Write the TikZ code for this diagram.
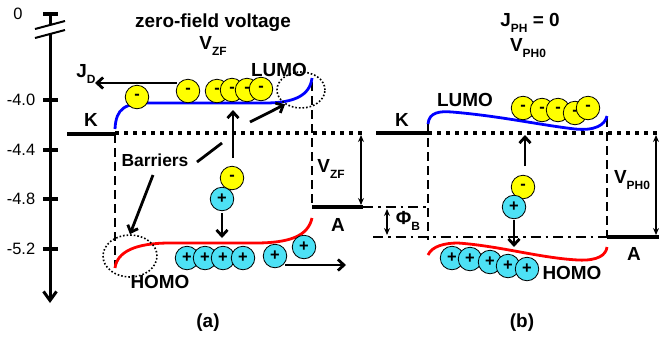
\documentclass[tikz,border=0pt]{standalone}
\usepackage{fontspec}
\setmainfont{Liberation Sans}
\usetikzlibrary{arrows.meta,shapes.geometric}
\definecolor{hcyan}{RGB}{77,225,245}
\definecolor{eyel}{RGB}{255,255,0}
\newcommand\sbs[1]{\raisebox{-0.3em}{\fontsize{12}{12}\selectfont\bfseries #1}}
\begin{document}
\begin{tikzpicture}[x=1bp,y=-1bp,
  lbl/.style={font=\fontsize{19}{19}\selectfont\bfseries, inner sep=0pt},
  axl/.style={font=\fontsize{16.5}{16}\selectfont, inner sep=0pt},
  charge/.style={circle, draw, line width=0.8bp, minimum size=23.5bp, inner sep=0pt, font=\fontsize{16.5}{16}\selectfont\bfseries},
  elec/.style={charge, fill=eyel},
  hole/.style={charge, fill=hcyan},
  level/.style={line width=4.5bp},
  dotl/.style={line width=3.5bp, dash pattern=on 3.5bp off 5.5bp},
  dashl/.style={line width=2.8bp, dash pattern=on 9bp off 5bp},
  dashdot/.style={line width=2.6bp, dash pattern=on 10bp off 5bp on 2.5bp off 5bp},
  arr/.style={line width=2.8bp, -{Straight Barb[length=6bp,width=11bp]}},
  ln/.style={line width=2.8bp},
  band/.style={line width=2.8bp},
  dim/.style={line width=1.5bp, {Stealth[length=7bp,width=6bp]}-{Stealth[length=7bp,width=6bp]}},
  ell/.style={ellipse, draw, line width=1.6bp, dash pattern=on 1.6bp off 2bp, inner sep=0pt},
]
\useasboundingbox (0,0) rectangle (659,339);
% ---------- energy axis ----------
\draw[line width=3bp] (50,14) -- (50,24);
\draw[line width=3bp, -{Straight Barb[length=9bp,width=13bp]}] (50,33) -- (50,303);
\draw[line width=2bp] (35,29) -- (65,21);
\draw[line width=2bp] (35,38) -- (65,30);
\foreach \yy in {14,100,149.5,199,248.5} \draw[line width=4bp] (43,\yy) -- (58,\yy);
\node[axl] (t0) at (18,14) {0};
\node[axl] (t1) at (21,100) {-4.0};
\node[axl] (t2) at (21,149.5) {-4.4};
\node[axl] (t3) at (21,199) {-4.8};
\node[axl] (t4) at (21,248.5) {-5.2};
% ---------- levels ----------
\draw[level] (67,134) -- (115,134);
\draw[level] (312,207) -- (363,207);
\draw[level] (376,133) -- (428,133);
\draw[level] (607,237) -- (659,237);
\draw[dotl] (115,133) -- (367,133);
\draw[dotl] (428,133) -- (659,133);
\draw[dashdot] (363,207) -- (428,207);
\draw[dashdot] (373,237) -- (607,237);
\draw[dashl] (115,134) -- (115,266);
\draw[dashl] (312,82) -- (312,207);
\draw[dashl] (428,124) -- (428,240);
\draw[dashl] (607,118) -- (607,237);
% ---------- bands ----------
\draw[blue, band] (115,129) .. controls (116,108) and (125,103) .. (150,103) -- (265,103) .. controls (295,103) and (310,95) .. (312,78);
\draw[red, band] (312,218) .. controls (308,236) and (290,243) .. (255,243) -- (170,243) .. controls (135,243) and (117,252) .. (115,268);
\draw[blue, band] (428,124) .. controls (429,112) and (440,111) .. (452,112) .. controls (500,116) and (540,125) .. (575,129) .. controls (595,131) and (605,125) .. (607,116);
\draw[red, band] (428,255) .. controls (432,246) and (445,243) .. (458,243) .. controls (500,246) and (540,258) .. (578,260) .. controls (598,261) and (606,255) .. (607,247);
% ---------- ellipses ----------
\node[ell, minimum width=48bp, minimum height=36bp] (lumoell) at (301,90) {};
\node[ell, minimum width=54bp, minimum height=42bp] (homoell) at (130,256) {};
% ---------- panel (a) charges ----------
\coordinate (jda) at (177,83);
\coordinate (jdb) at (95,83);
\draw[arr] (jda) -- (jdb);
\node[elec] (ea1) at (137,97) {\raisebox{-2.5bp}{-}};
\node[elec] (ea2) at (188,91) {\raisebox{-2.5bp}{-}};
\node[elec] (ea3) at (217,91) {\raisebox{-2.5bp}{-}};
\node[elec] (ea4) at (232,90) {\raisebox{-2.5bp}{-}};
\node[elec] (ea5) at (247,90) {\raisebox{-2.5bp}{-}};
\node[elec] (ea6) at (261,89) {\raisebox{-2.5bp}{-}};
\node[elec] (epa) at (232,178) {\raisebox{-2.5bp}{-}};
\node[hole] (hpa) at (222,199) {\raisebox{-2bp}{+}};
\coordinate (upa1) at (233,158);
\coordinate (upa2) at (233,110);
\draw[arr] (upa1) -- (upa2);
\coordinate (dna1) at (222,213);
\coordinate (dna2) at (222,238);
\draw[arr] (dna1) -- (dna2);
\node[hole] (ha1) at (187,258) {\raisebox{-2bp}{+}};
\node[hole] (ha2) at (205,258) {\raisebox{-2bp}{+}};
\node[hole] (ha3) at (223,258) {\raisebox{-2bp}{+}};
\node[hole] (ha4) at (243,258) {\raisebox{-2bp}{+}};
\node[hole] (ha5) at (275,256) {\raisebox{-2bp}{+}};
\node[hole] (ha6) at (304,247) {\raisebox{-2bp}{+}};
\coordinate (hra1) at (285,265);
\coordinate (hra2) at (346,265);
\draw[arr] (hra1) -- (hra2);
% barriers
\node[lbl, font=\fontsize{17.5}{17.5}\selectfont\bfseries] (barr) at (155,160) {Barriers};
\coordinate (b1a) at (197,162);
\coordinate (b1b) at (222,143);
\coordinate (b1c) at (250,122);
\draw[ln] (b1a) -- (b1b);
\draw[arr] (b1c) -- (lumoell.222);
\coordinate (b2a) at (153,175);
\draw[arr] (b2a) -- (homoell.north);
% ---------- panel (b) charges ----------
\node[elec] (eb1) at (523,108) {\raisebox{-2.5bp}{-}};
\node[elec] (eb2) at (542,110) {\raisebox{-2.5bp}{-}};
\node[elec] (eb3) at (558,110) {\raisebox{-2.5bp}{-}};
\node[elec] (eb4) at (575,113) {\raisebox{-2.5bp}{-}};
\node[elec] (eb5) at (588,108) {\raisebox{-2.5bp}{-}};
\node[elec] (epb) at (523,187) {\raisebox{-2.5bp}{-}};
\node[hole] (hpb) at (514,207) {\raisebox{-2bp}{+}};
\coordinate (upb1) at (525,166);
\coordinate (upb2) at (525,135);
\draw[arr] (upb1) -- (upb2);
\coordinate (dnb1) at (514,220);
\coordinate (dnb2) at (514,247);
\draw[arr] (dnb1) -- (dnb2);
\node[hole] (hb1) at (452,258) {\raisebox{-2bp}{+}};
\node[hole] (hb2) at (470,259) {\raisebox{-2bp}{+}};
\node[hole] (hb3) at (490,262) {\raisebox{-2bp}{+}};
\node[hole] (hb4) at (508,266) {\raisebox{-2bp}{+}};
\node[hole] (hb5) at (527,269) {\raisebox{-2bp}{+}};
% ---------- dimension arrows ----------
\coordinate (vz1) at (361,135);
\coordinate (vz2) at (361,205);
\draw[dim] (vz1) -- (vz2);
\coordinate (pb1) at (387,209);
\coordinate (pb2) at (387,235);
\draw[dim] (pb1) -- (pb2);
\coordinate (vp1) at (656,135);
\coordinate (vp2) at (656,235);
\draw[dim] (vp1) -- (vp2);
% ---------- labels ----------
\node[lbl] (title1) at (213,23) {zero-field voltage};
\node[lbl] (title2) at (213,46) {V\sbs{ZF}};
\node[lbl] (jd) at (86,74) {J\sbs{D}};
\node[lbl] (lumoa) at (279,70) {LUMO};
\node[lbl] (homoa) at (160,282) {HOMO};
\node[lbl] (ka) at (91,120) {K};
\node[lbl] (aa) at (338,225) {A};
\node[lbl] (vzf) at (331,169) {V\sbs{ZF}};
\node[lbl] (phib) at (408,221) {Φ\sbs{B}};
\node[lbl] (title3) at (530,23) {J\sbs{PH} = 0};
\node[lbl] (title4) at (528,48) {V\sbs{PH0}};
\node[lbl] (kb) at (402,120) {K};
\node[lbl] (lumob) at (465,100) {LUMO};
\node[lbl] (homob) at (572,273) {HOMO};
\node[lbl] (ab) at (634,254) {A};
\node[lbl] (vph) at (632,180) {V\sbs{PH0}};
\node[lbl] (capa) at (208,323) {(a)};
\node[lbl] (capb) at (522,323) {(b)};
\end{tikzpicture}
\end{document}
